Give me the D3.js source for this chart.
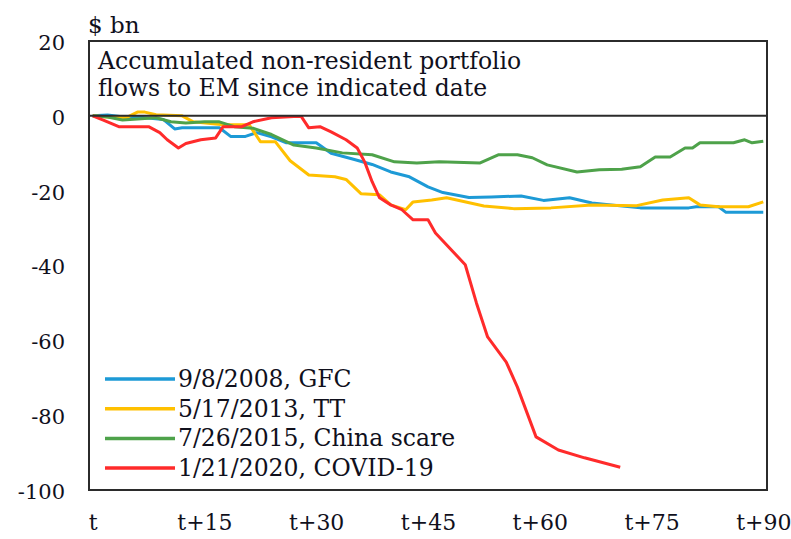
<!DOCTYPE html>
<meta charset="utf-8">
<script src="https://d3js.org/d3.v7.min.js"></script>
<style>
  body { margin: 0; background: #fff; }
  text { font-family: "DejaVu Serif", serif; fill: #10101c; }
</style>
<body>
<div id="chart"></div>
<script>
// data (day after event, accumulated flow in $ bn)
var gfcDays = [0, 2, 5, 6, 9.5, 11, 12, 17, 18.5, 20.5, 22, 24, 26, 30, 32, 35, 37.5, 40, 42.5, 45, 47, 50.5, 53.5, 57.5, 60.5, 64, 67, 73.5, 80, 81, 84, 85, 90];
var gfcVals = [0, 0.2, -0.5, -0.3, -1, -3.5, -3.2, -3.2, -5.5, -5.5, -4.5, -5.6, -7.2, -7.2, -10, -11.6, -13, -15, -16.3, -19, -20.5, -21.8, -21.7, -21.4, -22.6, -21.9, -23.3, -24.6, -24.6, -24.3, -24.3, -25.8, -25.8];

var ttDays = [0, 2, 4.5, 6, 7, 8.5, 12, 13.5, 17.5, 21, 22.5, 24.5, 26.5, 29, 32.5, 34, 36, 38.5, 40, 42, 43, 45.5, 47.5, 52.5, 56.5, 61.5, 67, 73, 76.5, 80, 81.5, 84, 88, 90];
var ttVals = [0, -0.3, -0.5, 1, 1, 0.3, 0, -1.6, -2.4, -2.4, -6.9, -6.9, -12, -15.8, -16.3, -17, -20.8, -21.1, -23.8, -25.1, -23, -22.5, -21.9, -24.1, -24.8, -24.6, -23.8, -24, -22.5, -21.9, -23.8, -24.3, -24.3, -23];

var chinaDays = [0, 2, 4, 8.5, 10.5, 12.5, 15, 17, 19, 21.5, 24, 27, 30, 33.5, 37.5, 40.5, 43.5, 46.5, 52, 54.5, 57, 59, 61, 65, 68, 71, 73.5, 75.5, 77.5, 79.5, 80.5, 81.5, 86, 87.5, 88.5, 90];
var chinaVals = [0, -0.3, -1.1, -0.5, -1.6, -1.9, -1.6, -1.6, -2.9, -3.3, -5, -7.8, -8.6, -9.9, -10.4, -12.3, -12.6, -12.3, -12.6, -10.4, -10.4, -11.2, -13.1, -15, -14.4, -14.3, -13.6, -11, -11, -8.6, -8.6, -7.2, -7.2, -6.4, -7.2, -6.8];

var covidDays = [0, 1.5, 3.5, 7.5, 9, 10, 11.5, 12.5, 14.5, 16.5, 17.5, 20, 21.5, 24, 27, 28, 29, 30.5, 32, 34, 35.5, 36.5, 37.5, 38.5, 40, 41.5, 43, 45, 46, 50, 51.5, 53, 55.5, 57, 59.5, 62.5, 66, 70.8];
var covidVals = [0, -1.2, -2.9, -2.9, -4.5, -6.4, -8.6, -7.4, -6.4, -5.9, -2.9, -2.9, -1.6, -0.5, -0.2, -0.2, -3.2, -2.9, -4.3, -6.4, -8.6, -12.3, -17.6, -21.9, -23.8, -25.1, -27.8, -27.8, -31.3, -39.8, -50, -59.1, -65.8, -72.5, -85.8, -89.3, -91.4, -93.9];

var seriesNames = ["9/8/2008, GFC", "5/17/2013, TT", "7/26/2015, China scare", "1/21/2020, COVID-19"];
var seriesColors = ["#1d9ad6", "#ffc000", "#4ea24a", "#ff2b2b"];
var yTicks = [20, 0, -20, -40, -60, -80, -100];
var xTicks = [0, 15, 30, 45, 60, 75, 90];
var xTickLabels = ["t", "t+15", "t+30", "t+45", "t+60", "t+75", "t+90"];
var titleLines = ["Accumulated non-resident portfolio", "flows to EM since indicated date"];

var width = 791, height = 539;
var margin = {left: 89, right: 24, top: 41, bottom: 49};

var svg = d3.select("#chart").append("svg")
  .attr("width", width)
  .attr("height", height);

// categories are centred between tick marks, like the original
var x = d3.scaleLinear().domain([-0.5, 90.5]).range([margin.left, width - margin.right]);
var y = d3.scaleLinear().domain([-100, 20]).range([height - margin.bottom, margin.top]);

var series = [
  {days: gfcDays, vals: gfcVals},
  {days: ttDays, vals: ttVals},
  {days: chinaDays, vals: chinaVals},
  {days: covidDays, vals: covidVals}
].map(function(s, i) {
  return {
    name: seriesNames[i],
    color: seriesColors[i],
    points: s.days.map(function(d, j) { return [d, s.vals[j]]; })
  };
});

var line = d3.line()
  .x(function(d) { return x(d[0]); })
  .y(function(d) { return y(d[1]); });

svg.append("g").selectAll("path")
  .data(series)
  .enter()
  .append("path")
  .attr("d", function(d) { return line(d.points); })
  .attr("fill", "none")
  .attr("stroke", function(d) { return d.color; })
  .attr("stroke-width", 3)
  .attr("stroke-linejoin", "round");

// frame and title box bottom line (at zero)
svg.append("rect")
  .attr("x", margin.left)
  .attr("y", margin.top)
  .attr("width", width - margin.left - margin.right)
  .attr("height", height - margin.top - margin.bottom)
  .attr("fill", "none")
  .attr("stroke", "#2b2b2b")
  .attr("stroke-width", 2);

svg.append("line")
  .attr("x1", margin.left)
  .attr("x2", width - margin.right)
  .attr("y1", y(0))
  .attr("y2", y(0))
  .attr("stroke", "#2b2b2b")
  .attr("stroke-width", 2);

// title inside the box
svg.append("g").selectAll("text")
  .data(titleLines)
  .enter()
  .append("text")
  .attr("x", margin.left + 9)
  .attr("y", function(d, i) { return 69 + i * 27; })
  .style("font-size", "23.5px")
  .text(function(d) { return d; });

// unit label
svg.append("text")
  .attr("x", margin.left - 1)
  .attr("y", 33)
  .style("font-size", "23px")
  .text("$ bn");

// y axis labels (no tick marks)
var yAxis = d3.axisLeft(y).tickValues(yTicks).tickSize(0).tickPadding(0)
  .tickFormat(function(d) { return String(d); });
var gy = svg.append("g")
  .attr("transform", "translate(" + (margin.left - 24) + ",0)")
  .call(yAxis);
gy.select(".domain").remove();
gy.selectAll("text")
  .attr("dy", "0.4em")
  .style("font-family", "'DejaVu Serif', serif")
  .style("font-size", "21px")
  .style("fill", "#10101c");

// x axis labels
var xAxis = d3.axisBottom(x).tickValues(xTicks).tickSize(0).tickPadding(0)
  .tickFormat(function(d, i) { return xTickLabels[i]; });
var gx = svg.append("g")
  .attr("transform", "translate(0," + (height - margin.bottom + 24) + ")")
  .call(xAxis);
gx.select(".domain").remove();
gx.selectAll("text")
  .style("font-family", "'DejaVu Serif', serif")
  .style("font-size", "22px")
  .style("fill", "#10101c");

// legend
var legend = svg.append("g").selectAll("g")
  .data(series)
  .enter()
  .append("g")
  .attr("transform", function(d, i) { return "translate(105," + (379 + i * 29.7) + ")"; });

legend.append("line")
  .attr("x1", 0)
  .attr("x2", 70)
  .attr("stroke", function(d) { return d.color; })
  .attr("stroke-width", 3.5);

legend.append("text")
  .attr("x", 73)
  .attr("y", 8)
  .style("font-size", "23.5px")
  .text(function(d) { return d.name; });
</script>
</body>
</html>
